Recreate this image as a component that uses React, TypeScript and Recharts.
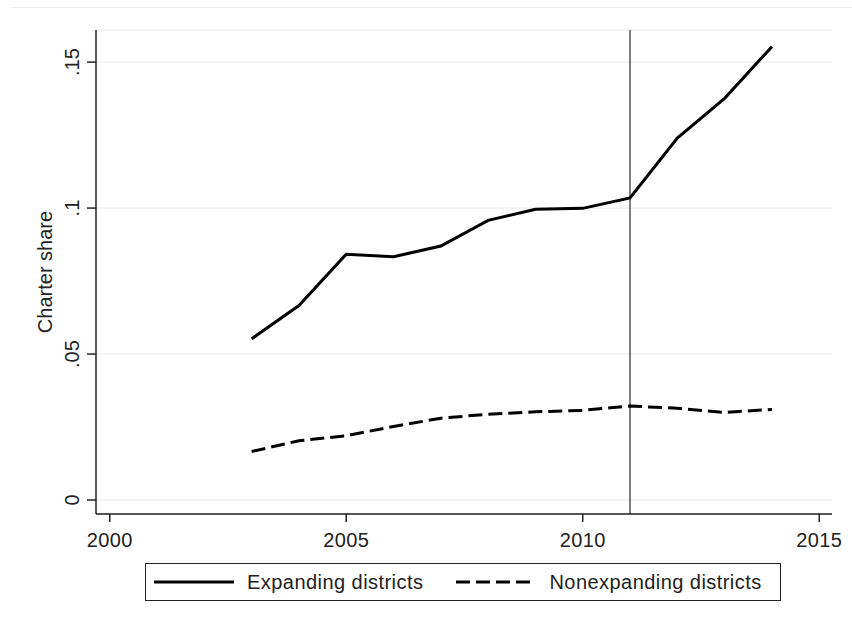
import React from "react";
import { LineChart, Line, XAxis, YAxis, CartesianGrid, ReferenceLine, Legend } from "recharts";

const years = [2003, 2004, 2005, 2006, 2007, 2008, 2009, 2010, 2011, 2012, 2013, 2014];
const expanding = [0.0552, 0.0666, 0.0842, 0.0833, 0.087, 0.0958, 0.0996, 0.0999, 0.1035, 0.124, 0.1376, 0.1553];
const nonexpanding = [0.0166, 0.0203, 0.022, 0.0252, 0.028, 0.0294, 0.0302, 0.0307, 0.0322, 0.0314, 0.03, 0.031];
const xTicks = [2000, 2005, 2010, 2015];
const yTicks = [0, 0.05, 0.1, 0.15];
const yTickLabels = ["0", ".05", ".1", ".15"];
const policyYear = 2011;

const data = years.map((year, i) => ({ year, expanding: expanding[i], nonexpanding: nonexpanding[i] }));

const FONT = "'Liberation Sans', Arial, sans-serif";
const DASH = "14 6";
const LEGEND_H = 38;

function XTick({ x, y, payload }: any) {
  return (
    <text x={x} y={y + 23} textAnchor="middle" fontSize={20} fontFamily={FONT} fill="#222" letterSpacing={0.4}>
      {payload.value}
    </text>
  );
}

function YTick({ x, y, payload }: any) {
  const idx = yTicks.indexOf(payload.value);
  return (
    <text x={x} y={y} transform={`rotate(-90, ${x}, ${y})`} textAnchor="middle" fontSize={20} fontFamily={FONT} fill="#222">
      {idx >= 0 ? yTickLabels[idx] : payload.value}
    </text>
  );
}

function LegendBox() {
  return (
    <div
      style={{
        boxSizing: "border-box",
        width: 636,
        height: LEGEND_H,
        border: "1.5px solid #222",
        background: "#fff",
        display: "flex",
        alignItems: "center",
        fontFamily: FONT,
        fontSize: 20,
        letterSpacing: 0.45,
        color: "#222",
      }}
    >
      <svg width={80} height={10} style={{ marginLeft: 8 }}>
        <line x1={0} y1={5} x2={80} y2={5} stroke="#000" strokeWidth={3} />
      </svg>
      <span style={{ marginLeft: 13 }}>Expanding districts</span>
      <svg width={80} height={10} style={{ marginLeft: 33 }}>
        <line x1={0} y1={5} x2={80} y2={5} stroke="#000" strokeWidth={3} strokeDasharray={DASH} />
      </svg>
      <span style={{ marginLeft: 13 }}>Nonexpanding districts</span>
    </div>
  );
}

export default function App() {
  return (
    <div style={{ position: "absolute", left: 0, top: 0, width: 852, height: 628, background: "#fff" }}>
      <div style={{ position: "absolute", left: 11, top: 7, width: 841, borderTop: "1px solid #eeeeee" }} />
      <LineChart width={852} height={628} data={data} margin={{ top: 30, right: 20, bottom: 84 - LEGEND_H, left: 0 }}>
        <CartesianGrid horizontal vertical={false} stroke="#efe9e9" strokeWidth={1} />
        <XAxis
          dataKey="year"
          type="number"
          domain={[1999.71, 2015.27]}
          ticks={xTicks}
          allowDataOverflow
          height={30}
          tickSize={8}
          tickMargin={2}
          tick={<XTick />}
          axisLine={{ stroke: "#222", strokeWidth: 1.5 }}
          tickLine={{ stroke: "#222", strokeWidth: 1.5 }}
        />
        <YAxis
          type="number"
          domain={[-0.0048, 0.161]}
          ticks={yTicks}
          allowDataOverflow
          width={96}
          tickSize={9}
          tickMargin={8}
          tick={<YTick />}
          axisLine={{ stroke: "#222", strokeWidth: 1.5 }}
          tickLine={{ stroke: "#222", strokeWidth: 1.5 }}
          label={{
            value: "Charter share",
            angle: -90,
            position: "insideLeft",
            content: (props: any) => {
              const vb = props.viewBox;
              const cy = vb.y + vb.height / 2;
              return (
                <text x={52} y={cy} transform={`rotate(-90, 52, ${cy})`} textAnchor="middle" fontSize={20} fontFamily={FONT} fill="#222">
                  Charter share
                </text>
              );
            },
          }}
        />
        <ReferenceLine x={policyYear} stroke="#555" strokeWidth={1.5} />
        <Line type="linear" dataKey="expanding" stroke="#000" strokeWidth={3} dot={false} isAnimationActive={false} />
        <Line type="linear" dataKey="nonexpanding" stroke="#000" strokeWidth={3} strokeDasharray={DASH} dot={false} isAnimationActive={false} />
        <Legend content={<LegendBox />} wrapperStyle={{ position: "absolute", left: 145, top: 563, width: 636, height: LEGEND_H }} />
      </LineChart>
    </div>
  );
}
